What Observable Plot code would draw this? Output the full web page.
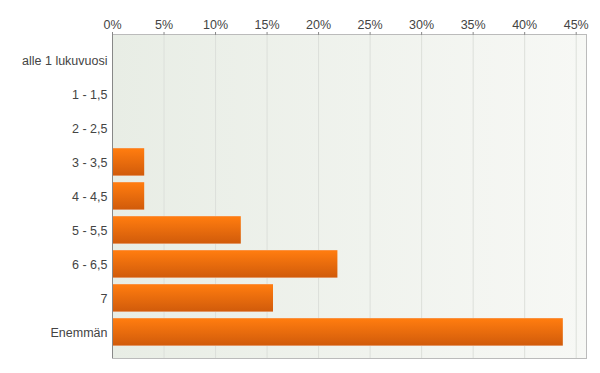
<!DOCTYPE html>
<html>
<head>
<meta charset="utf-8">
<script src="https://cdn.jsdelivr.net/npm/d3@7"></script>
<script src="https://cdn.jsdelivr.net/npm/@observablehq/plot@0.6"></script>
<style>
  html, body { margin: 0; padding: 0; background: #fff; }
  svg { font-family: Arial, "Liberation Sans", sans-serif; }
</style>
</head>
<body>
<div id="chart"></div>
<script>
const categories = ["alle 1 lukuvuosi", "1 - 1,5", "2 - 2,5", "3 - 3,5", "4 - 4,5", "5 - 5,5", "6 - 6,5", "7", "Enemmän"];
const shares = [0, 0, 0, 0.03125, 0.03125, 0.125, 0.21875, 0.15625, 0.4375];
const tickValues = [0, 0.05, 0.10, 0.15, 0.20, 0.25, 0.30, 0.35, 0.40, 0.45];

const data = categories.map((c, i) => ({category: c, share: shares[i]}));

const chart = Plot.plot({
  width: 600,
  height: 373,
  marginLeft: 112,
  marginRight: 14,
  marginTop: 34,
  marginBottom: 15,
  style: {fontSize: "12.5px", color: "#444", background: "#fff"},
  x: {domain: [0, 0.46], axis: null},
  y: {domain: categories, axis: null, paddingInner: 0.17, paddingOuter: 0.09, insetTop: 6, insetBottom: 6},
  marks: [
    Plot.frame({fill: "url(#bgGrad)", stroke: "#bbb"}),
    Plot.gridX(tickValues.slice(1), {stroke: "#dcdfda", strokeOpacity: 1}),
    Plot.barX(data, {x: "share", y: "category", fill: "url(#barGrad)"}),
    Plot.axisX({anchor: "top", ticks: tickValues, tickFormat: d3.format(".0%"), tickSize: 3, tickPadding: 3, stroke: "#888", fill: "#444", label: null}),
    Plot.ruleY([0], {frameAnchor: "top", stroke: "#888"}),
    Plot.axisY({anchor: "left", tickSize: 0, tickPadding: 5, fill: "#444", label: null}),
    Plot.ruleX([0], {stroke: "#888"})
  ]
});

const svg = d3.select(chart);
const defs = svg.insert("defs", ":first-child");
const bg = defs.append("linearGradient").attr("id", "bgGrad").attr("x1", "0").attr("x2", "1").attr("y1", "0").attr("y2", "0");
bg.append("stop").attr("offset", "0").attr("stop-color", "#e8ede5");
bg.append("stop").attr("offset", "1").attr("stop-color", "#f7f8f5");
const bar = defs.append("linearGradient").attr("id", "barGrad").attr("x1", "0").attr("x2", "0").attr("y1", "0").attr("y2", "1");
bar.append("stop").attr("offset", "0").attr("stop-color", "#f6a267");
bar.append("stop").attr("offset", "0.04").attr("stop-color", "#ff7c0f");
bar.append("stop").attr("offset", "0.95").attr("stop-color", "#d25c0b");
bar.append("stop").attr("offset", "1").attr("stop-color", "#eab594");

document.getElementById("chart").appendChild(chart);
</script>
</body>
</html>
